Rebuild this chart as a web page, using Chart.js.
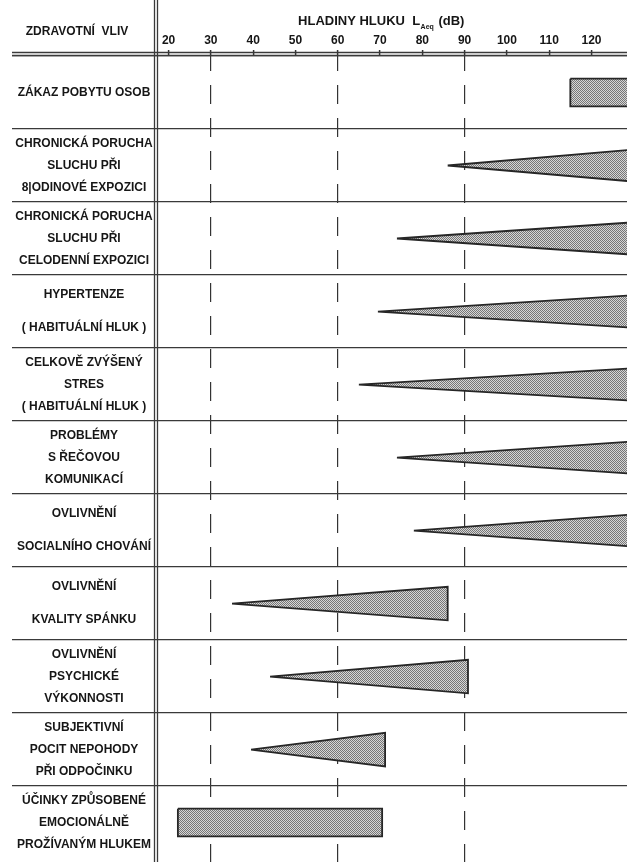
<!DOCTYPE html>
<html lang="cs">
<head>
<meta charset="utf-8">
<title>Zdravotní vliv hluku</title>
<script src="https://cdn.jsdelivr.net/npm/chart.js@4.4.1/dist/chart.umd.min.js"></script>
<style>
  html, body { margin: 0; padding: 0; background: #fff; }
  #wrap { width: 627px; height: 862px; position: relative; }
</style>
</head>
<body>
<div id="wrap"><canvas id="noiseChart"></canvas></div>
<script>
// rows, top to bottom
const effectLabels = [
  ['ZÁKAZ POBYTU OSOB'],
  ['CHRONICKÁ PORUCHA', 'SLUCHU PŘI', '8|ODINOVÉ EXPOZICI'],
  ['CHRONICKÁ PORUCHA', 'SLUCHU PŘI', 'CELODENNÍ EXPOZICI'],
  ['HYPERTENZE', '( HABITUÁLNÍ HLUK )'],
  ['CELKOVĚ ZVÝŠENÝ', 'STRES', '( HABITUÁLNÍ HLUK )'],
  ['PROBLÉMY', 'S ŘEČOVOU', 'KOMUNIKACÍ'],
  ['OVLIVNĚNÍ', 'SOCIALNÍHO CHOVÁNÍ'],
  ['OVLIVNĚNÍ', 'KVALITY SPÁNKU'],
  ['OVLIVNĚNÍ', 'PSYCHICKÉ', 'VÝKONNOSTI'],
  ['SUBJEKTIVNÍ', 'POCIT NEPOHODY', 'PŘI ODPOČINKU'],
  ['ÚČINKY ZPŮSOBENÉ', 'EMOCIONÁLNĚ', 'PROŽÍVANÝM HLUKEM']
];
// 'bar' = range box, 'wedge' = effect growing with level
const markType = ['bar', 'wedge', 'wedge', 'wedge', 'wedge', 'wedge', 'wedge', 'wedge', 'wedge', 'wedge', 'bar'];
// L_Aeq range in dB (values past 128 run off the right edge)
const fromDb = [115, 86, 74, 69.5, 65, 74, 78, 35, 44, 39.5, 22.2];
const toDb = [135, 132, 132, 132, 132, 132, 132, 86, 90.8, 71.2, 70.5];
const dbTicks = [20, 30, 40, 50, 60, 70, 80, 90, 100, 110, 120];
const dashedDb = [30, 60, 90];

const FONT = '"Liberation Sans", Arial, sans-serif';
const INK = '#161616';
const LINE = '#3a3a3a';
const LABEL_COL = 158;
const WEDGE_H = 0.46;
const BAR_H = 0.38;

// grey halftone fill like the printed original
const pc = document.createElement('canvas');
pc.width = 2; pc.height = 2;
const p = pc.getContext('2d');
p.fillStyle = '#d6d6d6'; p.fillRect(0, 0, 2, 2);
p.fillStyle = '#767676'; p.fillRect(0, 0, 1, 1); p.fillRect(1, 1, 1, 1);
const dots = p.createPattern(pc, 'repeat');

// widest label line, used to centre the label column
const m = document.createElement('canvas').getContext('2d');
m.font = 'bold 12px ' + FONT;
const widest = Math.max(...effectLabels.flat().map(t => m.measureText(t).width));
const labelCentre = 84;

function shapePoints(i) {
  const c = i + 0.5;
  if (markType[i] === 'bar') {
    const h = BAR_H / 2;
    return [
      { x: fromDb[i], y: c - h }, { x: toDb[i], y: c - h },
      { x: toDb[i], y: c + h }, { x: fromDb[i], y: c + h },
      { x: fromDb[i], y: c - h }
    ];
  }
  const h = WEDGE_H / 2;
  return [
    { x: fromDb[i], y: c }, { x: toDb[i], y: c - h },
    { x: toDb[i], y: c + h }, { x: fromDb[i], y: c }
  ];
}

const datasets = effectLabels.map((lab, i) => ({
  label: lab.join(' '),
  data: shapePoints(i),
  fill: 'shape',
  backgroundColor: dots,
  borderColor: '#262626',
  borderWidth: 1.8,
  borderJoinStyle: 'miter',
  tension: 0,
  pointRadius: 0
}));

const frame = {
  id: 'frame',
  afterDraw(chart) {
    const { ctx, chartArea: a } = chart;
    ctx.save();
    ctx.strokeStyle = LINE;
    ctx.lineWidth = 1.3;
    ctx.beginPath();
    [a.left - 3.5, a.left - 0.5].forEach(x => { ctx.moveTo(x, 0); ctx.lineTo(x, chart.height); });
    [a.top - 3.5, a.top - 0.5].forEach(y => { ctx.moveTo(12, y); ctx.lineTo(chart.width, y); });
    ctx.stroke();

    ctx.fillStyle = INK;
    ctx.textBaseline = 'alphabetic';
    ctx.font = 'bold 12px ' + FONT;
    ctx.textAlign = 'center';
    ctx.fillText('ZDRAVOTNÍ  VLIV', 77, 35);

    // axis title with subscript
    ctx.textAlign = 'left';
    const main = 'HLADINY HLUKU  L', sub = 'Aeq', tail = ' (dB)';
    ctx.font = 'bold 13px ' + FONT;
    const w1 = ctx.measureText(main).width, w3 = ctx.measureText(tail).width;
    ctx.font = 'bold 7px ' + FONT;
    const w2 = ctx.measureText(sub).width;
    let x = (a.left + a.right) / 2 - 12 - (w1 + w2 + w3) / 2;
    ctx.font = 'bold 13px ' + FONT;
    ctx.fillText(main, x, 25);
    x += w1 + 0.5;
    ctx.font = 'bold 7px ' + FONT;
    ctx.fillText(sub, x, 29);
    x += w2 + 1;
    ctx.font = 'bold 13px ' + FONT;
    ctx.fillText(tail, x, 25);
    ctx.restore();
  }
};

new Chart(document.getElementById('noiseChart'), {
  type: 'line',
  data: { datasets },
  plugins: [frame],
  options: {
    responsive: true,
    maintainAspectRatio: false,
    animation: false,
    events: [],
    layout: { padding: 0 },
    plugins: { legend: { display: false }, tooltip: { enabled: false } },
    scales: {
      x: {
        type: 'linear',
        position: 'top',
        min: 17.5,
        max: 128.4,
        afterBuildTicks: s => { s.ticks = dbTicks.map(v => ({ value: v })); },
        afterFit: s => { s.height = 56; },
        grid: {
          color: c => (c.tick && dashedDb.includes(c.tick.value)) ? '#333' : 'transparent',
          lineWidth: 1.2,
          tickLength: 6,
          tickColor: '#333',
          tickWidth: 1.5
        },
        border: { display: false, dash: [19, 14], dashOffset: 4 },
        ticks: {
          padding: 2,
          color: INK,
          autoSkip: false,
          maxRotation: 0,
          font: { family: FONT, size: 12, weight: 'bold' }
        }
      },
      y: {
        type: 'linear',
        reverse: true,
        min: 0,
        max: 11.04,
        afterBuildTicks: s => { s.ticks = effectLabels.map((_, i) => ({ value: i + 0.5 })); },
        afterFit: s => { s.width = LABEL_COL; },
        grid: {
          offset: true,
          color: c => c.tick ? LINE : 'transparent',
          tickColor: c => c.tick ? LINE : 'transparent',
          lineWidth: 1.2,
          tickWidth: 1.2,
          tickLength: LABEL_COL - 12
        },
        border: { display: false },
        ticks: {
          autoSkip: false,
          crossAlign: 'center',
          padding: 12 - labelCentre - widest / 2,
          color: INK,
          font: c => {
            const n = (c.tick && effectLabels[c.index]) ? effectLabels[c.index].length : 1;
            return { family: FONT, size: 12, weight: 'bold', lineHeight: n === 2 ? '33px' : '22px' };
          },
          callback: (v, i) => effectLabels[i]
        }
      }
    }
  }
});
</script>
</body>
</html>
